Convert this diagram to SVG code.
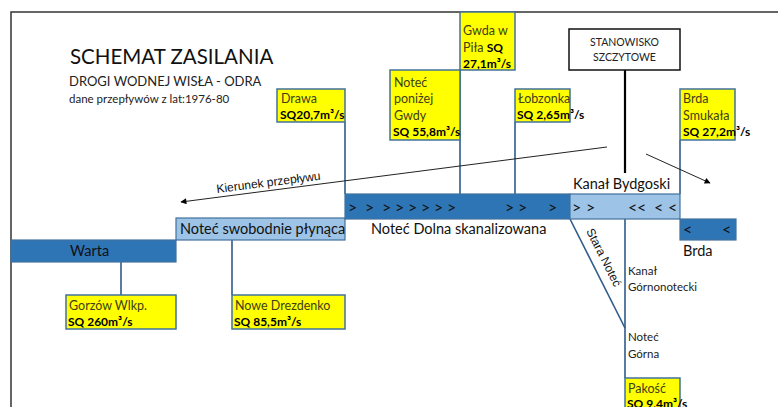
<svg xmlns="http://www.w3.org/2000/svg" width="778" height="407" viewBox="0 0 778 407">
<defs>
<marker id="ah" viewBox="0 0 10 10" refX="9" refY="5" markerWidth="7" markerHeight="6" orient="auto" markerUnits="userSpaceOnUse"><path d="M0,0 L10,5 L0,10 z" fill="#000"/></marker>
</defs>
<style>
.box{fill:#FFFF00;stroke:#41719C;stroke-width:1.5}
.dk{fill:#2E75B6;stroke:#41719C;stroke-width:1.2}
.lt{fill:#9DC3E6;stroke:#41719C;stroke-width:1.2}
.ln{stroke:#2F5C8A;stroke-width:1.6;fill:none}
.t{font-family:Lato,"Open Sans",sans-serif;font-size:12.5px;fill:#40401a}
.b{font-family:Lato,"Open Sans",sans-serif;font-size:12px;font-weight:bold;fill:#000}
.ch{font-family:Lato,"Open Sans",sans-serif;font-size:14.5px;fill:#111}
.cv{font-family:Lato,"Open Sans",sans-serif;font-size:16px;fill:#111}
.s{font-family:Lato,"Open Sans",sans-serif;font-size:11.5px;fill:#222}
</style>
<rect width="778" height="407" fill="#fff"/>
<g id="frame"><path d="M11,407 V12 H778" stroke="#333" stroke-width="1.5" fill="none"/></g>
<g id="title">
<text x="70" y="64" font-family="Lato,'Open Sans',sans-serif" font-size="20.5" fill="#111">SCHEMAT ZASILANIA</text>
<text x="69" y="86" font-family="Lato,'Open Sans',sans-serif" font-size="13" fill="#222">DROGI WODNEJ WISŁA - ODRA</text>
<text x="69" y="103" font-family="Lato,'Open Sans',sans-serif" font-size="11.5" fill="#222">dane przepływów z lat:1976-80</text>
</g>
<g id="connectors">
<line class="ln" x1="345" y1="122" x2="345" y2="194"/>
<line class="ln" x1="460" y1="70" x2="460" y2="194"/>
<line class="ln" x1="515" y1="122" x2="515" y2="194"/>
<line class="ln" x1="680" y1="140" x2="680" y2="194"/>
<line class="ln" x1="121" y1="262" x2="121" y2="295"/>
<line class="ln" x1="232" y1="240" x2="232" y2="295"/>
<line class="ln" x1="570" y1="219" x2="625" y2="328"/>
<line class="ln" x1="625" y1="219" x2="625" y2="378"/>
<line x1="625" y1="70" x2="625" y2="173" stroke="#000" stroke-width="2.2"/>
<line x1="607" y1="147" x2="181" y2="202" stroke="#222" stroke-width="1" marker-end="url(#ah)"/>
<line x1="646" y1="154" x2="710" y2="183" stroke="#222" stroke-width="1" marker-end="url(#ah)"/>
<text transform="translate(217,193) rotate(-7.3)" font-family="'Liberation Sans',Arial,sans-serif" font-size="12" fill="#111">Kierunek przepływu</text>
<text transform="translate(586,231) rotate(63.2)" font-family="'Liberation Sans',Arial,sans-serif" font-size="12" fill="#111">Stara Noteć</text>
</g>
<g id="warta"><rect class="dk" x="11" y="240" width="165" height="22"/><text class="ch" x="70" y="256" font-size="15.5">Warta</text></g>
<g id="notec-swobodnie"><rect class="lt" x="176" y="218" width="169" height="22"/><text class="ch" x="180" y="234" font-size="14">Noteć swobodnie płynąca</text></g>
<g id="notec-dolna"><rect class="dk" x="345" y="194" width="225" height="25"/>
<text class="cv" y="213"><tspan x="348">&gt;</tspan><tspan x="365">&gt;</tspan><tspan x="382">&gt;</tspan><tspan x="395">&gt;</tspan><tspan x="408">&gt;</tspan><tspan x="421">&gt;</tspan><tspan x="434">&gt;</tspan><tspan x="447">&gt;</tspan><tspan x="505">&gt;</tspan><tspan x="518">&gt;</tspan><tspan x="548">&gt;</tspan></text>
<text class="ch" x="371" y="234" font-size="14">Noteć Dolna skanalizowana</text></g>
<g id="kanal-bydgoski"><rect class="lt" x="570" y="194" width="110" height="25"/>
<text class="cv" y="213"><tspan x="572">&gt;</tspan><tspan x="586">&gt;</tspan><tspan x="628">&lt;</tspan><tspan x="637">&lt;</tspan><tspan x="654">&lt;</tspan><tspan x="668">&lt;</tspan></text>
<text class="ch" x="573" y="189" font-size="15">Kanał Bydgoski</text></g>
<g id="brda"><rect class="dk" x="680" y="219" width="56" height="21"/>
<text class="cv" y="235"><tspan x="683">&lt;</tspan><tspan x="722">&lt;</tspan></text>
<text class="ch" x="683" y="256" font-size="15">Brda</text></g>
<g id="stanowisko"><rect x="569" y="29" width="111" height="41" fill="#fff" stroke="#111" stroke-width="1.5"/>
<text x="624.5" y="46" text-anchor="middle" font-family="Lato,'Open Sans',sans-serif" font-size="10.5" fill="#222">STANOWISKO</text>
<text x="624.5" y="61" text-anchor="middle" font-family="Lato,'Open Sans',sans-serif" font-size="10.5" fill="#222">SZCZYTOWE</text></g>
<g id="drawa"><rect class="box" x="277" y="89" width="68" height="33"/><text class="t" x="281" y="103">Drawa</text><text class="b" x="280" y="119">SQ20,7m³/s</text></g>
<g id="notec-ponizej-gwdy"><rect class="box" x="390" y="70" width="70" height="70"/><text class="t" x="394" y="87">Noteć</text><text class="t" x="394" y="103">poniżej</text><text class="t" x="394" y="120">Gwdy</text><text class="b" x="393" y="136">SQ 55,8m³/s</text></g>
<g id="gwda"><rect class="box" x="460" y="12" width="55" height="58"/><text class="t" x="463" y="35">Gwda w</text><text x="463" y="52"><tspan class="t">Piła </tspan><tspan class="b">SQ</tspan></text><text class="b" x="463" y="68">27,1m³/s</text></g>
<g id="lobzonka"><rect class="box" x="515" y="89" width="55" height="33"/><text class="t" x="518" y="103">Łobzonka</text><text class="b" x="517" y="119">SQ 2,65m³/s</text></g>
<g id="brda-smukala"><rect class="box" x="680" y="89" width="55" height="51"/><text class="t" x="683" y="103">Brda</text><text class="t" x="683" y="120">Smukała</text><text class="b" x="683" y="136">SQ 27,2m³/s</text></g>
<g id="gorzow"><rect class="box" x="66" y="295" width="110" height="34"/><text class="t" x="69" y="310">Gorzów Wlkp.</text><text class="b" x="68" y="326">SQ 260m³/s</text></g>
<g id="nowe-drezdenko"><rect class="box" x="232" y="295" width="113" height="34"/><text class="t" x="235" y="310">Nowe Drezdenko</text><text class="b" x="234" y="326">SQ 85,5m³/s</text></g>
<g id="kanal-gornonotecki"><text class="s" x="628" y="275">Kanał</text><text class="s" x="628" y="291">Górnonotecki</text></g>
<g id="notec-gorna"><text class="s" x="628" y="341">Noteć</text><text class="s" x="628" y="358">Górna</text></g>
<g id="pakosc"><rect class="box" x="625" y="378" width="55" height="35"/><text class="t" x="628" y="393">Pakość</text><text class="b" x="627" y="408">SQ 9,4m³/s</text></g>
</svg>
